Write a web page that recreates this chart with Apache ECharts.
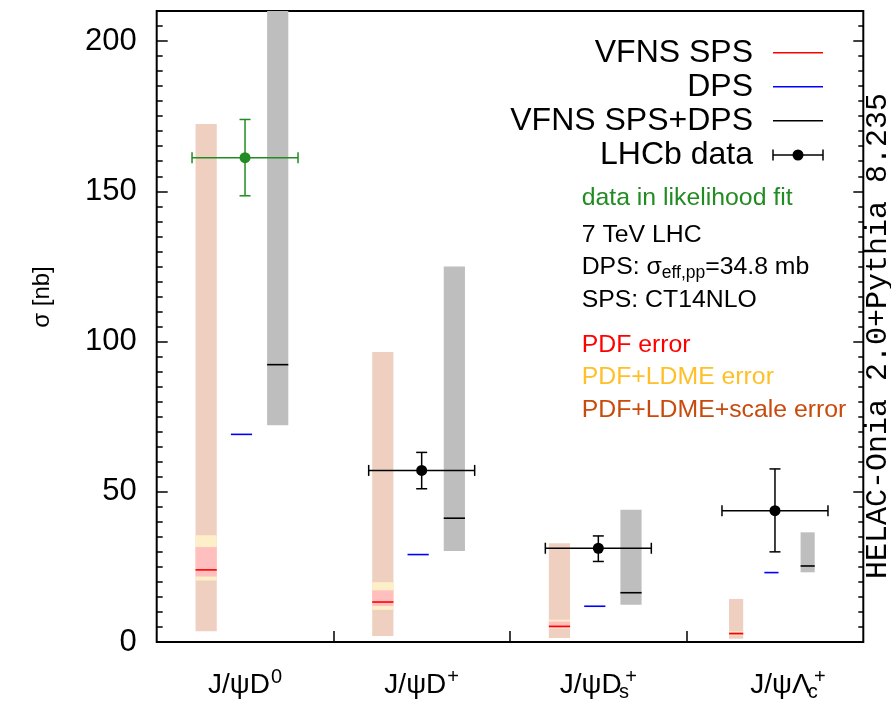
<!DOCTYPE html>
<html><head><meta charset="utf-8">
<script src="https://cdn.jsdelivr.net/npm/echarts@6/dist/echarts.min.js"></script>
<style>html,body{margin:0;padding:0;background:#fff;overflow:hidden}#c{width:891px;height:702px}</style>
</head><body><div id="c"></div>
<script>
// ---- data ----
const categories = ['J/ψD0', 'J/ψD+', 'J/ψDs+', 'J/ψΛc+'];
const catPos = [1, 2, 3, 4];
const catBoundaries = [1.5, 2.5, 3.5];
const spsCentral = [24.0, 13.3, 5.2, 2.8];
const pdfLo = [21.8, 12.0, 4.6, 2.4];
const pdfHi = [31.6, 17.2, 6.8, 3.3];
const ldmeLo = [20.5, 10.7, 4.4, 2.2];
const ldmeHi = [35.5, 19.9, 7.4, 3.6];
const scaleLo = [3.6, 2.0, 1.3, 1.1];
const scaleHi = [172.4, 96.5, 32.9, 14.3];
const dpsVal = [69.1, 29.1, 11.9, 23.1];
const sumCentral = [92.3, 41.2, 16.4, 25.3];
const sumLo = [72.1, 30.3, 12.4, 23.2];
const sumHi = [230.0, 125.0, 44.0, 36.5];
const dataVal = [161.2, 57.1, 31.2, 43.7];
const dataLo = [148.5, 51.0, 26.8, 30.0];
const dataHi = [173.9, 63.1, 35.3, 57.6];
const dataXErr = [0.3, 0.3, 0.3, 0.3];
const inLikelihoodFit = [true, false, false, false];
const yTickValues = [0, 50, 100, 150, 200];

// ---- styles ----
const FONT = '"Liberation Sans", Arial, Helvetica, sans-serif';
const MONO = '"Liberation Mono", "DejaVu Sans Mono", monospace';
const BAND_W = [0.12, 0.12, 0.12, 0.08];
const OFF_SPS = -0.22, OFF_DPS = -0.02, OFF_SUM = 0.185;
const C_SCALE = '#eecfc0', C_LDME = '#fdefc8', C_PDF = '#ffbfbf';
const C_GREEN = '#228b22';

const chart = echarts.init(document.getElementById('c'), null, {renderer: 'canvas'});

function bandSeries(name, lo, hi, off, color) {
  return {
    type: 'custom', name, clip: true,
    data: catPos.map((x, i) => [x, lo[i], hi[i]]),
    encode: {x: 0, y: [1, 2]},
    renderItem: (params, api) => {
      const i = params.dataIndex, w = BAND_W[i], x = api.value(0);
      const p1 = api.coord([x + off - w / 2, api.value(2)]);
      const p2 = api.coord([x + off + w / 2, api.value(1)]);
      return {type: 'rect', shape: {x: p1[0], y: p1[1], width: p2[0] - p1[0], height: p2[1] - p1[1]},
              style: {fill: color}};
    }
  };
}
function lineSeries(name, vals, off, color) {
  return {
    type: 'custom', name, clip: true,
    data: catPos.map((x, i) => [x, vals[i]]),
    encode: {x: 0, y: 1},
    renderItem: (params, api) => {
      const i = params.dataIndex, w = BAND_W[i], x = api.value(0);
      const p1 = api.coord([x + off - w / 2, api.value(1)]);
      const p2 = api.coord([x + off + w / 2, api.value(1)]);
      return {type: 'line', shape: {x1: p1[0], y1: p1[1], x2: p2[0], y2: p2[1]},
              style: {stroke: color, lineWidth: 1.6}};
    }
  };
}
const dataSeries = {
  type: 'custom', name: 'LHCb data', clip: true,
  data: catPos.map((x, i) => [x, dataVal[i], dataLo[i], dataHi[i], dataXErr[i]]),
  encode: {x: 0, y: [1, 2, 3]},
  renderItem: (params, api) => {
    const i = params.dataIndex, x = api.value(0), xe = api.value(4);
    const col = inLikelihoodFit[i] ? C_GREEN : '#000';
    const c = api.coord([x, api.value(1)]);
    const l = api.coord([x - xe, api.value(1)]);
    const r = api.coord([x + xe, api.value(1)]);
    const lo = api.coord([x, api.value(2)]);
    const hi = api.coord([x, api.value(3)]);
    const st = {stroke: col, lineWidth: 1.5};
    const cap = 5.5;
    return {type: 'group', children: [
      {type: 'line', shape: {x1: l[0], y1: l[1], x2: r[0], y2: r[1]}, style: st},
      {type: 'line', shape: {x1: l[0], y1: l[1] - cap, x2: l[0], y2: l[1] + cap}, style: st},
      {type: 'line', shape: {x1: r[0], y1: r[1] - cap, x2: r[0], y2: r[1] + cap}, style: st},
      {type: 'line', shape: {x1: lo[0], y1: lo[1], x2: hi[0], y2: hi[1]}, style: st},
      {type: 'line', shape: {x1: lo[0] - cap, y1: lo[1], x2: lo[0] + cap, y2: lo[1]}, style: st},
      {type: 'line', shape: {x1: hi[0] - cap, y1: hi[1], x2: hi[0] + cap, y2: hi[1]}, style: st},
      {type: 'circle', shape: {cx: c[0], cy: c[1], r: 5.5}, style: {fill: col}}
    ]};
  }
};

const xLabelRich = [
  '{b|J/ψD}{sup|0}',
  '{b|J/ψD}{sup|+}',
  '{b|J/ψD}{subz|s}{sup|+}',
  '{pad|}{b|J/ψΛ}{subz|c}{sup|+}'
];

const yAxisBase = {type: 'value', min: 0, max: 210, splitLine: {show: false}, axisLine: {show: false}};
const option = {
  animation: false,
  backgroundColor: '#fff',
  grid: {left: 156.7, right: 27.7, top: 11, bottom: 49.3, show: true, borderColor: '#000', borderWidth: 2,
         backgroundColor: 'transparent', containLabel: false},
  xAxis: [{
    type: 'value', min: 0.5, max: 4.5, position: 'bottom',
    axisLine: {show: false}, splitLine: {show: false},
    axisTick: {show: true, inside: true, length: 11, customValues: catBoundaries, lineStyle: {color: '#000', width: 1.5}},
    axisLabel: {
      customValues: catPos, margin: 25, color: '#000', fontFamily: FONT,
      formatter: v => xLabelRich[catPos.indexOf(v)],
      rich: {
        b: {fontSize: 28, fontFamily: FONT, color: '#000'},
        sup: {fontSize: 20, fontFamily: FONT, color: '#000', padding: [0, 0, 16, 1]},
        subz: {fontSize: 20, fontFamily: FONT, color: '#000', padding: [14, 0, 0, 2], width: 0.5},
        pad: {width: 26}
      }
    }
  }],
  yAxis: [
    Object.assign({}, yAxisBase, {
      position: 'left', interval: 50,
      axisTick: {inside: true, length: 11, lineStyle: {color: '#000', width: 1.5}},
      axisLabel: {fontSize: 31, color: '#000', fontFamily: FONT, margin: 20, showMaxLabel: false}
    }),
    Object.assign({}, yAxisBase, {
      position: 'left', interval: 5,
      axisTick: {inside: true, length: 6, lineStyle: {color: '#000', width: 1.5}},
      axisLabel: {show: false}
    }),
    Object.assign({}, yAxisBase, {
      position: 'right', interval: 50,
      axisTick: {inside: true, length: 10, lineStyle: {color: '#000', width: 1.5}},
      axisLabel: {show: false}
    }),
    Object.assign({}, yAxisBase, {
      position: 'right', interval: 5,
      axisTick: {inside: true, length: 5, lineStyle: {color: '#000', width: 1.5}},
      axisLabel: {show: false}
    })
  ],
  series: [
    bandSeries('PDF+LDME+scale error', scaleLo, scaleHi, OFF_SPS, C_SCALE),
    bandSeries('PDF+LDME error', ldmeLo, ldmeHi, OFF_SPS, C_LDME),
    bandSeries('PDF error', pdfLo, pdfHi, OFF_SPS, C_PDF),
    lineSeries('VFNS SPS', spsCentral, OFF_SPS, '#ff0000'),
    lineSeries('DPS', dpsVal, OFF_DPS, '#0000ff'),
    bandSeries('VFNS SPS+DPS band', sumLo, sumHi, OFF_SUM, '#bebebe'),
    lineSeries('VFNS SPS+DPS', sumCentral, OFF_SUM, '#000000'),
    dataSeries
  ],
  graphic: (function () {
    const els = [];
    const legendRows = [
      {t: 'VFNS SPS', c: '#ff0000', y: 52.7},
      {t: 'DPS', c: '#0000ff', y: 86.7},
      {t: 'VFNS SPS+DPS', c: '#000000', y: 120.7},
      {t: 'LHCb data', c: null, y: 155}
    ];
    legendRows.forEach(r => {
      els.push({type: 'text', x: 753, y: r.y, style: {text: r.t, fontSize: 32, fontFamily: FONT, fill: '#000', align: 'right', verticalAlign: 'middle'}});
      if (r.c) {
        els.push({type: 'line', shape: {x1: 773, y1: r.y, x2: 823, y2: r.y}, style: {stroke: r.c, lineWidth: 1.5}});
      } else {
        const st = {stroke: '#000', lineWidth: 1.5};
        els.push({type: 'line', shape: {x1: 773, y1: r.y, x2: 823, y2: r.y}, style: st});
        els.push({type: 'line', shape: {x1: 773, y1: r.y - 5.5, x2: 773, y2: r.y + 5.5}, style: st});
        els.push({type: 'line', shape: {x1: 823, y1: r.y - 5.5, x2: 823, y2: r.y + 5.5}, style: st});
        els.push({type: 'circle', shape: {cx: 798, cy: r.y, r: 5.5}, style: {fill: '#000'}});
      }
    });
    const notes = [
      {t: 'data in likelihood fit', c: C_GREEN, y: 197.7},
      {t: '7 TeV LHC', c: '#000', y: 235},
      {t: '{n|DPS: σ}{s|eff,pp}{n|=34.8 mb}', c: '#000', y: 266.7, rich: true},
      {t: 'SPS: CT14NLO', c: '#000', y: 300},
      {t: 'PDF error', c: '#ff0000', y: 345},
      {t: 'PDF+LDME error', c: '#ffbf27', y: 377.3},
      {t: 'PDF+LDME+scale error', c: '#c84b0c', y: 410}
    ];
    notes.forEach(n => {
      const style = {text: n.t, fontSize: 24.8, fontFamily: FONT, fill: n.c, align: 'left', verticalAlign: 'middle'};
      if (n.rich) {
        style.rich = {
          n: {fontSize: 24.8, fontFamily: FONT, fill: '#000'},
          s: {fontSize: 17.5, fontFamily: FONT, fill: '#000', padding: [12, 0, 0, 0]}
        };
      }
      els.push({type: 'text', x: 581.7, y: n.y, style});
    });
    els.push({type: 'text', x: 42, y: 297, rotation: Math.PI / 2,
      style: {text: 'σ [nb]', fontSize: 24, fontFamily: FONT, fill: '#000', align: 'center', verticalAlign: 'middle'}});
    els.push({type: 'text', x: 878, y: 336, rotation: Math.PI / 2,
      style: {text: 'HELAC-Onia 2.0+Pythia 8.235', fontSize: 30, fontFamily: MONO, fill: '#000', align: 'center', verticalAlign: 'middle'}});
    return els;
  })()
};
chart.setOption(option);
</script>
</body></html>
